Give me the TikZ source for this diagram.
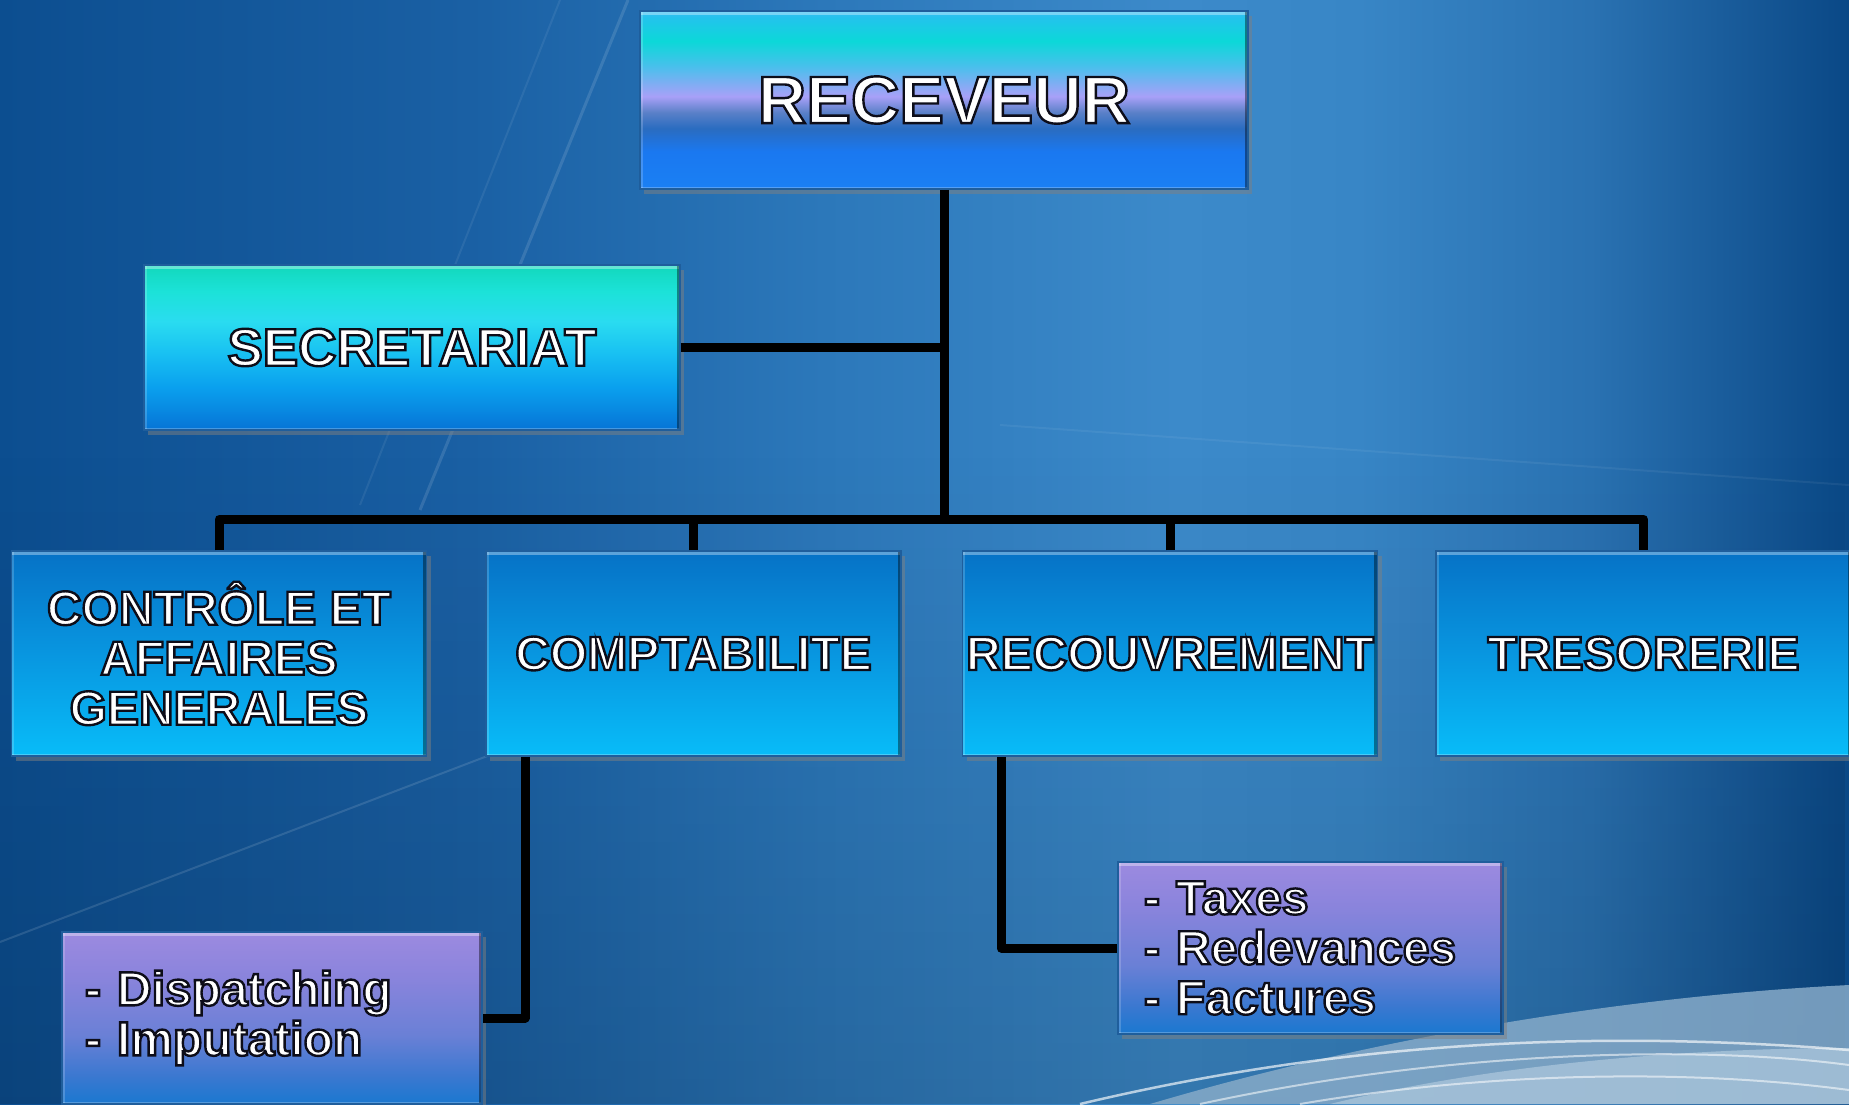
\documentclass[tikz,border=0pt]{standalone}
\usepackage{fontspec}
\setmainfont{Liberation Sans}
\usetikzlibrary{shadows,calc,fadings}
\newcommand{\otxt}[1]{\special{pdf:literal direct 2 Tr 2.4 w 0.05 0.05 0.1 RG}#1\special{pdf:literal direct 0 Tr}}

\definecolor{hA}{HTML}{0C4E90}
\definecolor{hB}{HTML}{1A60A4}
\definecolor{hC}{HTML}{2C78BA}
\definecolor{hD}{HTML}{3C8ACA}
\definecolor{hE}{HTML}{3886C6}
\definecolor{hF}{HTML}{2A72B2}
\definecolor{hG}{HTML}{0A4886}
\pgfdeclarehorizontalshading{bgshade}{100bp}{color(0bp)=(hA); color(25bp)=(hA); color(37.7bp)=(hB); color(47.3bp)=(hC); color(56.9bp)=(hD); color(61.7bp)=(hE); color(68bp)=(hF); color(75bp)=(hG); color(100bp)=(hG)}
\definecolor{wavec}{HTML}{86AAC8}
\definecolor{wavel}{HTML}{A8C4DA}
\definecolor{edgec}{HTML}{1F5E9C}

\definecolor{rA0}{HTML}{38BEF4}
\definecolor{rA}{HTML}{22C4EC}
\definecolor{rB}{HTML}{0CD8D8}
\definecolor{rC}{HTML}{48C0EC}
\definecolor{rD}{HTML}{A8A0F8}
\definecolor{rE}{HTML}{5A80C8}
\definecolor{rF}{HTML}{2A6CC0}
\definecolor{rG}{HTML}{1A78F0}
\definecolor{rH}{HTML}{1A80F4}
\pgfdeclareverticalshading{recvshade}{100bp}{color(0bp)=(rH); color(25bp)=(rH); color(35.5bp)=(rG); color(42bp)=(rF); color(46.5bp)=(rE); color(51bp)=(rD); color(59.5bp)=(rC); color(66.5bp)=(rB); color(73bp)=(rA); color(75bp)=(rA0); color(100bp)=(rA0)}

\definecolor{sA}{HTML}{12D8BC}
\definecolor{sB}{HTML}{1CE2D8}
\definecolor{sC}{HTML}{2ADCF0}
\definecolor{sD}{HTML}{18C0F2}
\definecolor{sE}{HTML}{0AA0EE}
\definecolor{sF}{HTML}{0674D6}
\pgfdeclareverticalshading{secrshade}{100bp}{color(0bp)=(sF); color(25bp)=(sF); color(38bp)=(sE); color(48bp)=(sD); color(58bp)=(sC); color(67bp)=(sB); color(75bp)=(sA); color(100bp)=(sA)}

\definecolor{wA}{HTML}{0672C6}
\definecolor{wB}{HTML}{0896E0}
\definecolor{wC}{HTML}{08BCF8}
\pgfdeclareverticalshading{rowshade}{100bp}{color(0bp)=(wC); color(25bp)=(wC); color(50bp)=(wB); color(75bp)=(wA); color(100bp)=(wA)}

\definecolor{uA}{HTML}{9C8AE0}
\definecolor{uB}{HTML}{8A84DC}
\definecolor{uC}{HTML}{6A80D6}
\definecolor{uD}{HTML}{3A78D0}
\definecolor{uE}{HTML}{1A78D0}
\pgfdeclareverticalshading{subshade}{100bp}{color(0bp)=(uE); color(25bp)=(uE); color(33bp)=(uD); color(45bp)=(uC); color(62bp)=(uB); color(75bp)=(uA); color(100bp)=(uA)}

\tikzset{
  boxbase/.style={rectangle, inner sep=0pt, text=white, draw=edgec, line width=1.5pt,
    drop shadow={shadow xshift=4pt, shadow yshift=-5pt, opacity=0.5},
    path picture={
      \draw[white, opacity=.35, line width=7pt]
        (path picture bounding box.north west) -- (path picture bounding box.north east);
      \draw[white, opacity=.18, line width=5pt]
        (path picture bounding box.north west) -- (path picture bounding box.south west);
      \draw[white, opacity=.25, line width=5pt]
        (path picture bounding box.south west) -- (path picture bounding box.south east);
      \draw[black, opacity=.4, line width=7pt]
        (path picture bounding box.north east) -- (path picture bounding box.south east);}},
  recvbox/.style={boxbase, shading=recvshade, minimum width=608pt, minimum height=178pt,
    font=\fontsize{67}{72}\selectfont\bfseries},
  secrbox/.style={boxbase, shading=secrshade, minimum width=536pt, minimum height=165pt,
    font=\fontsize{53}{60}\selectfont\bfseries},
  rowbox/.style={boxbase, shading=rowshade, minimum width=415pt, minimum height=205pt,
    align=center, font=\fontsize{48}{50}\selectfont\bfseries},
  subbox/.style={boxbase, shading=subshade, align=left,
    font=\fontsize{48}{50}\selectfont\bfseries},
  conn/.style={draw=black, line width=9pt, line join=round}
}

\begin{document}
\begin{tikzpicture}[x=1pt,y=-1pt]
\useasboundingbox (0,0) rectangle (1849,1104);
% background
\begin{scope}
\clip (0,0) rectangle (1849,1104);
\shade[shading=bgshade] (0,0) rectangle (1849,1104);
\fill[black, opacity=.14, path fading=north] (0,450) rectangle (1849,1104);
\draw[white, opacity=.12, line width=3pt] (628,0) -- (420,510);
\draw[white, opacity=.07, line width=2pt] (560,0) -- (360,505);
\draw[white, opacity=.12, line width=2pt] (0,942) -- (490,755);
\draw[white, opacity=.06, line width=2pt] (1000,425) -- (1849,485);
\fill[wavec, opacity=.85] (1150,1104) .. controls (1400,1030) and (1650,995) .. (1849,985) -- (1849,1104) -- cycle;
\fill[wavel, opacity=.8] (1330,1104) .. controls (1500,1062) and (1700,1048) .. (1849,1048) -- (1849,1104) -- cycle;
\draw[white, opacity=.65, line width=2.5pt] (1080,1104) .. controls (1350,1040) and (1600,1030) .. (1849,1050);
\draw[white, opacity=.55, line width=2pt] (1200,1104) .. controls (1450,1050) and (1700,1045) .. (1849,1065);
\draw[white, opacity=.55, line width=2pt] (1300,1104) .. controls (1500,1070) and (1700,1070) .. (1849,1090);
\end{scope}

% boxes
\node[recvbox] (recv) at (944,100) {\otxt{RECEVEUR}};
\node[secrbox] (secr) at (412,347.5) {\otxt{SECRETARIAT}};
\node[rowbox] (ctrl) at (219,653.5) {\otxt{CONTRÔLE ET\\AFFAIRES\\GENERALES}};
\node[rowbox] (comp) at (693.5,653.5) {\otxt{COMPTABILITE}};
\node[rowbox] (recouv) at (1170,653.5) {\otxt{RECOUVREMENT}};
\node[rowbox] (treso) at (1643.5,653.5) {\otxt{TRESORERIE}};
\node[subbox, minimum width=420pt, minimum height=172pt, text width=374pt] (disp) at (272,1018) {\otxt{- Dispatching\\- Imputation}};
\node[subbox, minimum width=385pt, minimum height=172pt, text width=333pt] (taxes) at (1310.5,948) {\otxt{- Taxes\\- Redevances\\- Factures}};

% connectors
\coordinate (bus) at (944,519);
\draw[conn] (recv.south) -- (bus);
\draw[conn] (secr.east) -- (secr.east -| recv.south);
\draw[conn] (ctrl.north) -- (ctrl.north |- bus) -- (treso.north |- bus) -- (treso.north);
\draw[conn] (comp.north) -- (comp.north |- bus);
\draw[conn] (recouv.north) -- (recouv.north |- bus);
\draw[conn] ([xshift=-168.5pt]comp.south) |- (disp.east);
\draw[conn] ([xshift=-169pt]recouv.south) |- (taxes.west);
\end{tikzpicture}
\end{document}
